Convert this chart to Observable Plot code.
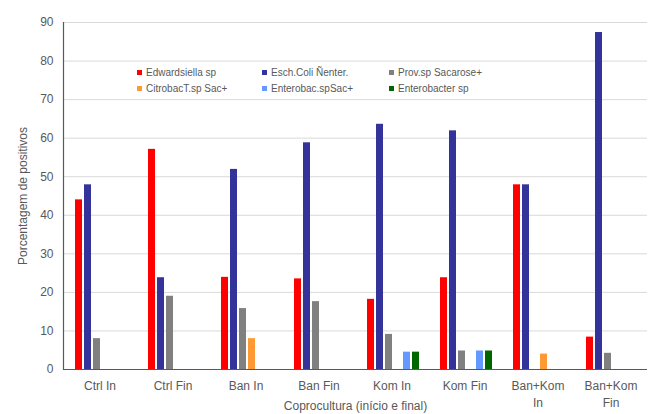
<!DOCTYPE html>
<html>
<head>
<meta charset="utf-8">
<script src="https://cdn.jsdelivr.net/npm/d3@7"></script>
<script src="https://cdn.jsdelivr.net/npm/@observablehq/plot@0.6"></script>
<style>
  html, body { margin: 0; padding: 0; background: #fff; }
  #wrap { position: relative; width: 648px; height: 414px; font-family: "Liberation Sans", Arial, sans-serif; }
  #legend { position: absolute; left: 137px; top: 66px; display: grid; grid-template-columns: 125px 127px 120px; row-gap: 4px; font-size: 10px; color: #595959; }
  #legend div { display: flex; align-items: center; height: 12px; white-space: nowrap; }
  #legend span.sw { display: inline-block; width: 5px; height: 5px; margin-right: 4px; }
</style>
</head>
<body>
<div id="wrap"><div id="legend"></div></div>
<script>
const categories = ["Ctrl In", "Ctrl Fin", "Ban In", "Ban Fin", "Kom In", "Kom Fin", "Ban+Kom\nIn", "Ban+Kom\nFin"];
const seriesNames = ["Edwardsiella sp", "Esch.Coli Ñenter.", "Prov.sp Sacarose+", "CitrobacT.sp Sac+", "Enterobac.spSac+", "Enterobacter sp"];
const seriesColors = ["#FF0000", "#333399", "#808080", "#FF9933", "#6699FF", "#006600"];
const edwardsiella = [44.0, 57.1, 23.9, 23.5, 18.2, 23.8, 47.9, 8.4];
const eschColi     = [47.9, 23.8, 51.9, 58.8, 63.6, 61.9, 47.9, 87.4];
const provSac      = [8.0, 19.0, 15.8, 17.6, 9.1, 4.8, 0, 4.2];
const citrobact    = [0, 0, 8.0, 0, 0, 0, 4.0, 0];
const enterobacSac = [0, 0, 0, 0, 4.5, 4.8, 0, 0];
const enterobacter = [0, 0, 0, 0, 4.5, 4.8, 0, 0];
const yTicks = [0, 10, 20, 30, 40, 50, 60, 70, 80, 90];

const seriesValues = [edwardsiella, eschColi, provSac, citrobact, enterobacSac, enterobacter];
const rows = [];
seriesValues.forEach((vals, si) => {
  vals.forEach((v, ci) => {
    if (v > 0) rows.push({category: categories[ci], series: seriesNames[si], value: v});
  });
});

const chart = Plot.plot({
  width: 648,
  height: 414,
  marginLeft: 62,
  marginRight: 0,
  marginTop: 22,
  marginBottom: 45,
  style: {fontFamily: "'Liberation Sans', Arial, sans-serif", fontSize: "12px", color: "#595959", background: "transparent"},
  fx: {domain: categories, padding: 0},
  x: {domain: seriesNames, axis: null, paddingInner: 0.27, paddingOuter: 0.8, align: 0.55},
  y: {domain: [0, 90], ticks: yTicks, tickSize: 0, tickPadding: 10, label: "Porcentagem de positivos", labelAnchor: "center", labelOffset: 45, labelArrow: "none"},
  color: {domain: seriesNames, range: seriesColors},
  marks: [
    Plot.gridY(yTicks, {stroke: "#d9d9d9", strokeOpacity: 1}),
    Plot.barY(rows, {fx: "category", x: "series", y: "value", fill: "series"}),
    Plot.ruleY([0], {stroke: "#595959", strokeWidth: 1.2}),
    Plot.frame({anchor: "left", facetAnchor: "left", stroke: "#595959", strokeWidth: 1.2}),
    Plot.axisFx({anchor: "bottom", tickSize: 0, tickPadding: 9, lineHeight: 1.4, label: "Coprocultura (início e final)", labelAnchor: "center", labelOffset: 40, labelArrow: "none"})
  ]
});
document.getElementById("wrap").prepend(chart);

const legend = document.getElementById("legend");
seriesNames.forEach((name, i) => {
  const d = document.createElement("div");
  const sw = document.createElement("span");
  sw.className = "sw";
  sw.style.background = seriesColors[i];
  d.appendChild(sw);
  d.appendChild(document.createTextNode(name));
  legend.appendChild(d);
});
</script>
</body>
</html>
